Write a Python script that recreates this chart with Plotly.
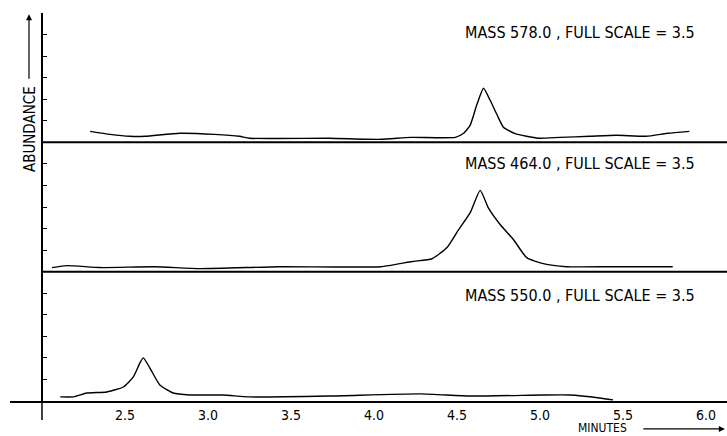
import plotly.graph_objects as go

# ---- data (minutes, abundance in scale divisions; full scale = 6 divisions) ----
t_578 = [2.29, 2.41, 2.53, 2.62, 2.83, 3.04, 3.19, 3.25, 3.73, 4.04, 4.22, 4.49, 4.54,
         4.58, 4.62, 4.66, 4.70, 4.74, 4.78, 4.85, 4.99, 5.12, 5.30, 5.46, 5.64, 5.77, 5.90]
a_578 = [0.51, 0.37, 0.28, 0.28, 0.42, 0.37, 0.28, 0.19, 0.19, 0.14, 0.23, 0.23, 0.42,
         0.80, 1.75, 2.51, 1.95, 1.30, 0.70, 0.40, 0.19, 0.23, 0.28, 0.33, 0.28, 0.42, 0.51]

t_464 = [2.06, 2.15, 2.35, 2.68, 2.95, 3.43, 4.04, 4.23, 4.35, 4.44, 4.51, 4.58, 4.64,
         4.69, 4.76, 4.84, 4.92, 5.02, 5.16, 5.44, 5.80]
a_464 = [0.19, 0.28, 0.19, 0.23, 0.14, 0.23, 0.23, 0.47, 0.60, 1.12, 1.95, 2.74, 3.77,
         2.95, 2.19, 1.49, 0.65, 0.37, 0.23, 0.23, 0.23]

t_550 = [2.11, 2.19, 2.27, 2.39, 2.49, 2.55, 2.59, 2.61, 2.65, 2.71, 2.79, 2.89, 3.09,
         3.25, 3.73, 4.28, 4.58, 5.02, 5.18, 5.36, 5.44]
a_550 = [0.19, 0.19, 0.37, 0.42, 0.65, 1.12, 1.77, 2.00, 1.53, 0.74, 0.37, 0.28, 0.28,
         0.19, 0.23, 0.33, 0.23, 0.28, 0.28, 0.14, 0.05]

x_ticks = [2.5, 3.0, 3.5, 4.0, 4.5, 5.0, 5.5, 6.0]
x_tick_labels = ["2.5", "3.0", "3.5", "4.0", "4.5", "5.0", "5.5", "6.0"]
panel_labels = ["MASS 578.0 , FULL SCALE = 3.5",
                "MASS 464.0 , FULL SCALE = 3.5",
                "MASS 550.0 , FULL SCALE = 3.5"]

FONT = "Liberation Sans Narrow, DejaVu Sans Condensed, Roboto, sans-serif"
AXPOS = 0.0446  # paper position of the abundance axis (t = 2.0 min)

fig = go.Figure()
line = dict(color="black", width=1.4, shape="spline", smoothing=0.5)
fig.add_trace(go.Scatter(x=t_578, y=a_578, mode="lines", line=line, xaxis="x3", yaxis="y3"))
fig.add_trace(go.Scatter(x=t_464, y=a_464, mode="lines", line=line, xaxis="x2", yaxis="y2"))
fig.add_trace(go.Scatter(x=t_550, y=a_550, mode="lines", line=line, xaxis="x", yaxis="y"))

yax = dict(range=[0, 6], dtick=1, ticks="inside", ticklen=4, tickcolor="black",
           showticklabels=False, showgrid=False, zeroline=False, showline=True,
           linecolor="black", linewidth=1.5, anchor="free", position=AXPOS, fixedrange=True)

fig.update_layout(
    width=727, height=436,
    margin=dict(l=10, r=0, t=13, b=35),
    paper_bgcolor="white", plot_bgcolor="white",
    showlegend=False,
    font=dict(family=FONT, color="black", size=14),
    xaxis=dict(domain=[0, 1], range=[1.807, 6.127], anchor="y", showline=True,
               linecolor="black", linewidth=2, tickvals=x_ticks, ticktext=x_tick_labels,
               ticks="", showgrid=False, zeroline=False,
               tickfont=dict(family=FONT, size=14, color="black")),
    xaxis2=dict(domain=[0, 1], matches="x", anchor="y2", visible=False),
    xaxis3=dict(domain=[0, 1], matches="x", anchor="y3", visible=False),
    yaxis=dict(domain=[0, 1/3], **yax),
    yaxis2=dict(domain=[1/3, 2/3], **yax),
    yaxis3=dict(domain=[2/3, 1], **yax),
)

# baselines of the upper two panels
for yr in ["y2 domain", "y3 domain"]:
    fig.add_shape(type="line", xref="paper", yref=yr, x0=AXPOS, x1=1, y0=0, y1=0,
                  line=dict(color="black", width=2))
# abundance axis extending below the time axis
fig.add_shape(type="line", xref="paper", yref="paper", x0=AXPOS, x1=AXPOS, y0=-0.049, y1=0,
              line=dict(color="black", width=1.5))

# panel labels
for lab, yy in zip(panel_labels, [0.951, 0.613, 0.273]):
    fig.add_annotation(text=lab, xref="paper", yref="paper", x=0.958, y=yy,
                       xanchor="right", yanchor="middle", showarrow=False,
                       font=dict(family=FONT, size=16, color="black"))

# axis titles with arrows
fig.add_annotation(text="ABUNDANCE", xref="paper", yref="paper", x=0.028, y=0.701,
                   textangle=-90, showarrow=False, xanchor="center", yanchor="middle",
                   font=dict(family=FONT, size=15, color="black"))
fig.add_annotation(text="", xref="paper", yref="paper", x=0.0265, y=0.997,
                   ax=0, ay=66, showarrow=True, arrowhead=2, arrowsize=1, arrowwidth=1.2,
                   arrowcolor="black")
fig.add_annotation(text="MINUTES", xref="paper", yref="paper", x=0.827, y=-0.069,
                   showarrow=False, xanchor="center", yanchor="middle",
                   font=dict(family=FONT, size=12, color="black"))
fig.add_annotation(text="", xref="paper", yref="paper", x=0.997, y=-0.072,
                   ax=-83, ay=0, showarrow=True, arrowhead=2, arrowsize=1, arrowwidth=1.2,
                   arrowcolor="black")

fig.write_html("out.html", post_script="document.body.style.margin='0';",
               config={"displayModeBar": False})
